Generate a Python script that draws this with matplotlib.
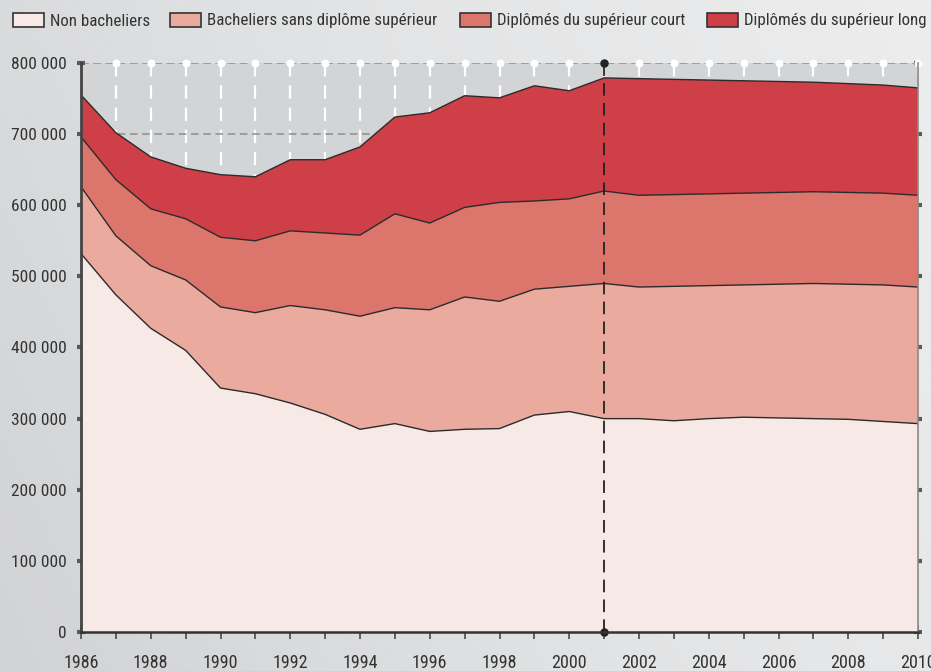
import matplotlib
matplotlib.use("Agg")
import matplotlib.pyplot as plt
import numpy as np
from matplotlib.patches import Rectangle
from matplotlib.colors import LinearSegmentedColormap
from matplotlib import font_manager

names = {f.name for f in font_manager.fontManager.ttflist}
fam = ['Roboto Condensed', 'Liberation Sans Narrow', 'Liberation Sans', 'DejaVu Sans']
fam = [f for f in fam if f in names] + ['DejaVu Sans']
plt.rcParams['font.family'] = fam

years = list(range(1986, 2011))
non_bacheliers = [532, 474, 427, 396, 343, 335, 322, 306, 285, 293, 282, 285, 286,
                  305, 310, 300, 300, 297, 300, 302, 301, 300, 299, 296, 293]
bacheliers = [94, 83, 88, 99, 114, 114, 137, 147, 159, 163, 171, 186, 179,
              177, 176, 190, 185, 189, 187, 186, 188, 190, 190, 192, 192]
sup_court = [70, 79, 80, 86, 98, 101, 105, 108, 114, 132, 122, 126, 139,
             124, 123, 130, 129, 129, 129, 129, 129, 129, 129, 129, 129]
sup_long = [59, 66, 73, 71, 88, 90, 100, 103, 124, 136, 155, 157, 147,
            162, 152, 159, 164, 162, 160, 158, 156, 154, 153, 152, 151]
labels = ["Non bacheliers", "Bacheliers sans diplôme supérieur",
          "Diplômés du supérieur court", "Diplômés du supérieur long"]
colors = ["#f7e9e6", "#eaab9e", "#dc766c", "#cf3f48"]
yticks = [0, 100000, 200000, 300000, 400000, 500000, 600000, 700000, 800000]
ytick_labels = ["0", "100 000", "200 000", "300 000", "400 000", "500 000",
                "600 000", "700 000", "800 000"]
xtick_labels = [str(y) if y % 2 == 0 else "" for y in years]
marker_year = 2001

series = [np.array(s) * 1000 for s in (non_bacheliers, bacheliers, sup_court, sup_long)]

W, H = 931, 671
fig = plt.figure(figsize=(W / 100, H / 100), dpi=100)

# background gradient
bg = fig.add_axes([0, 0, 1, 1], zorder=-10)
cmap = LinearSegmentedColormap.from_list("bg", ["#d1d2d4", "#e2e3e4", "#ededee"])
gx = np.linspace(0, 1, 300)
gy = np.linspace(0, 1, 200)
G = 0.75 * gx[None, :] + 0.25 * gy[:, None]
bg.imshow(G, extent=[0, 1, 0, 1], aspect='auto', cmap=cmap, origin='lower')
# subtle diagonal texture
for k in np.arange(-1.0, 2.0, 0.006):
    bg.plot([k, k + 0.7], [1, 0], color='white', lw=0.4, alpha=0.10)
bg.set_xlim(0, 1)
bg.set_ylim(0, 1)
bg.axis('off')

ax = fig.add_axes([81 / W, 1 - 632 / H, 837 / W, 569 / H])
ax.set_facecolor('#d3d4d6')

# grid behind areas
ax.vlines(years[1:], 0, 800000, colors='white', linestyles=(0, (6, 4)), lw=1.6, zorder=1)
ax.hlines(yticks[1:], years[0], years[-1], colors='#8e8e8e', linestyles=(0, (5, 3)), lw=1.1, zorder=1.5)
ax.scatter(years[1:], [800000] * (len(years) - 1), s=22, color='white', zorder=2, clip_on=False)

ax.stackplot(years, *series, colors=colors, linewidth=0, zorder=3)
cum = np.cumsum(series, axis=0)
for c in cum:
    ax.plot(years, c, color='#2b2b2b', lw=1.0, zorder=4)

ax.vlines(marker_year, 0, 800000, colors='#222222', linestyles=(0, (7, 4)), lw=1.3, zorder=5)
ax.scatter([marker_year, marker_year], [0, 800000], s=26, color='#222222', zorder=6, clip_on=False)

ax.set_xlim(years[0], years[-1])
ax.set_ylim(0, 800000)
ax.set_xticks(years)
ax.set_xticklabels(xtick_labels, fontsize=13, color='#333333')
ax.set_yticks(yticks)
ax.set_yticklabels(ytick_labels, fontsize=12.5, color='#333333')
ax.tick_params(axis='x', direction='inout', length=10, width=1.3, color='#555555', pad=11)
ax.tick_params(axis='y', direction='inout', length=6, width=3, color='#5a5a5a', pad=7, right=True)

ax.spines['top'].set_visible(False)
ax.spines['left'].set_color('#444444')
ax.spines['left'].set_linewidth(2)
ax.spines['bottom'].set_color('#333333')
ax.spines['bottom'].set_linewidth(1.8)
ax.spines['right'].set_color('#8a8a8a')
ax.spines['right'].set_linewidth(1.2)
for s in ax.spines.values():
    s.set_zorder(7)

# legend, placed manually
box_left = [13, 170, 460, 707]
box_w, box_h, box_top = 31, 14, 13
for xl, col, lab in zip(box_left, colors, labels):
    fig.patches.append(Rectangle((xl / W, 1 - (box_top + box_h) / H), box_w / W, box_h / H,
                                 facecolor=col, edgecolor='#333333', linewidth=1.2,
                                 transform=fig.transFigure, figure=fig))
    fig.text((xl + box_w + 6) / W, 1 - (box_top + box_h / 2 + 1) / H, lab,
             fontsize=12.2, color='#333333', ha='left', va='center')

fig.savefig("out.png", dpi=100)
